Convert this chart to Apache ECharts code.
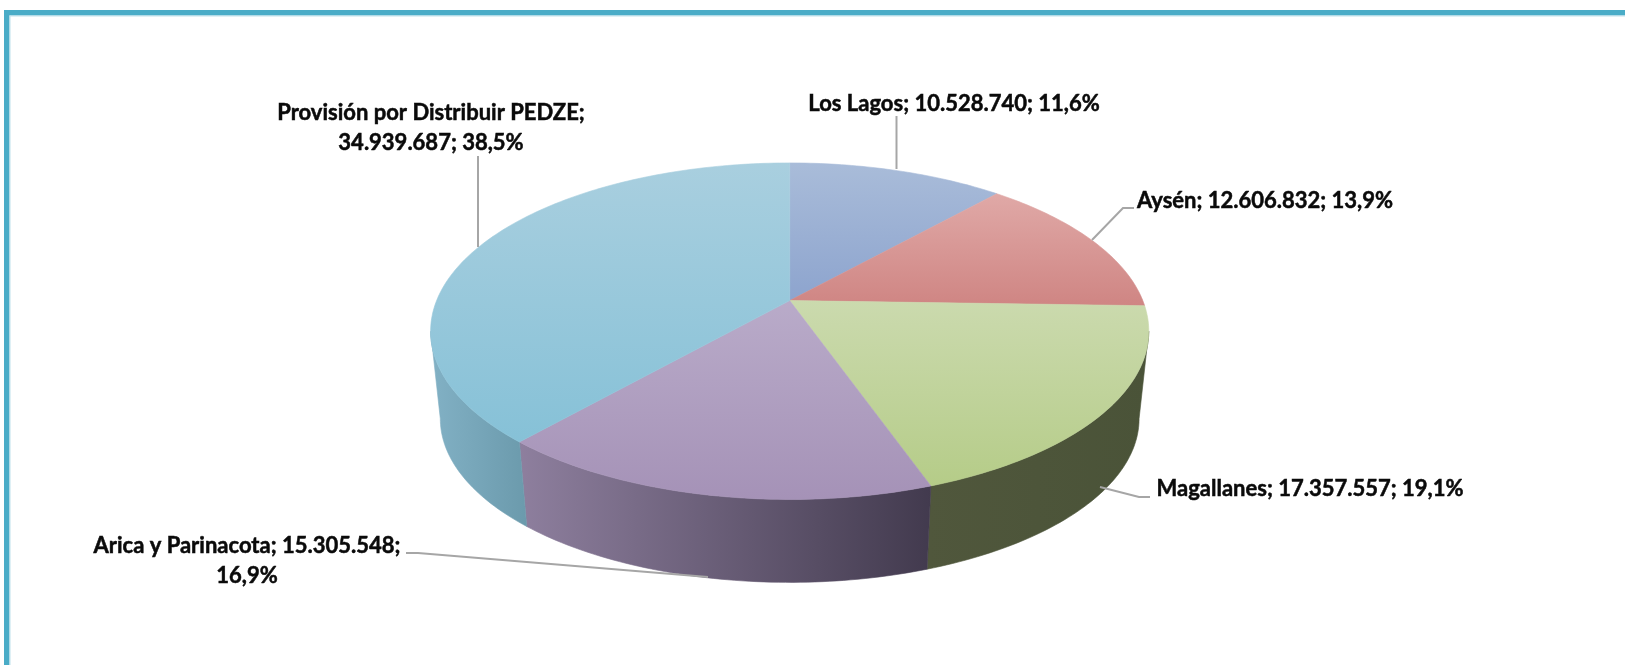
<!DOCTYPE html>
<html>
<head>
<meta charset="utf-8">
<style>
    html, body { margin: 0; padding: 0; background: #fff; }
    #chart { width: 1625px; height: 665px; }
</style>
</head>
<body>
<div id="chart"></div>
<script src="https://cdn.jsdelivr.net/npm/echarts@6/dist/echarts.min.js"></script>
<script>
// data, clockwise from 12 o'clock
const names = ['Los Lagos', 'Aysén', 'Magallanes', 'Arica y Parinacota', 'Provisión por Distribuir PEDZE']
const values = [10528740, 12606832, 17357557, 15305548, 34939687]
const percents = ['11,6%', '13,9%', '19,1%', '16,9%', '38,5%']
const valueLabels = ['10.528.740', '12.606.832', '17.357.557', '15.305.548', '34.939.687']

// colours
const topColors = [
    ['#a9bcd9', '#8da4ce'],
    ['#e0a9a7', '#cf8583'],
    ['#cbdaae', '#b5cc88'],
    ['#b9abc9', '#a592b7'],
    ['#a9cfdf', '#86c1d7'],
]
const wallColors = [
    ['#7f93b5', '#7f93b5'],
    ['#a56a68', '#a56a68'],
    ['#50573c', '#4a5338'],
    ['#8e7f9e', '#423a4e'],
    ['#82b1c5', '#6b9aac'],
]

// perspective of the disc
const CX = 789.7, CY = 300.6, RX = 353.1, RY = 162.7, PERSP = 0.1818
const WALL_DY = 88.3, WALL_SCALE = 0.973

// label and leader line layout
const labelPos = [[954, 104], [1265, 200.5], [1310, 489], [247, 560.5], [431, 128]]
const labelSep = [
    ['; ', '; '],
    ['; ', '; '],
    ['; ', '; '],
    ['; ', ';\n'],
    [';\n', '; '],
]
const leaders = [
    [[896.5, 116], [896.5, 169]],
    [[1092, 240], [1123, 208], [1134, 208]],
    [[1100, 487], [1139, 497], [1150, 497]],
    [[406, 553], [418, 553], [708, 577]],
    [[478, 156], [478, 247]],
]

const total = values.reduce((a, b) => a + b, 0)
const starts = []
values.reduce((acc, v, i) => { starts[i] = acc; return acc + v }, 0)
const toAngle = v => v / total * Math.PI * 2

// point on the disc rim (r=1) or center (r=0), angle clockwise from the top
const project = (angle, r = 1) => {
    const u = r * Math.sin(angle)
    const v = -r * Math.cos(angle)
    const d = 1 - PERSP * v
    return [CX + RX * u / d, CY + RY * v / d]
}
const lower = p => [CX + (p[0] - CX) * WALL_SCALE, CY + WALL_DY + (p[1] - CY) * WALL_SCALE]

const arc = (a0, a1) => {
    const pts = []
    const steps = Math.max(2, Math.ceil((a1 - a0) / (Math.PI / 180)))
    for (let i = 0; i <= steps; i++) pts.push(project(a0 + (a1 - a0) * i / steps))
    return pts
}

const gradient = (stops, horizontal) => ({
    type: 'linear', x: 0, y: 0, x2: horizontal ? 1 : 0, y2: horizontal ? 0 : 1,
    colorStops: [{ offset: 0, color: stops[0] }, { offset: 1, color: stops[1] }],
})

// only the front part of the rim shows a wall
const edge = Math.asin(PERSP)
const frontStart = Math.PI / 2 + edge
const frontEnd = Math.PI * 3 / 2 - edge

const renderWall = (params) => {
    const i = params.dataIndex
    const a0 = Math.max(toAngle(starts[i]), frontStart)
    const a1 = Math.min(toAngle(starts[i] + values[i]), frontEnd)
    if (a1 <= a0) return { type: 'group', children: [] }
    const rim = arc(a0, a1)
    const fill = gradient(wallColors[i], true)
    return {
        type: 'polygon',
        shape: { points: rim.concat(rim.map(lower).reverse()) },
        style: { fill, stroke: fill, lineWidth: 0.6 },
    }
}

const renderTop = (params) => {
    const i = params.dataIndex
    const a0 = toAngle(starts[i])
    const a1 = toAngle(starts[i] + values[i])
    const fill = gradient(topColors[i], false)
    return {
        type: 'polygon',
        shape: { points: [project(0, 0)].concat(arc(a0, a1)) },
        style: { fill, stroke: fill, lineWidth: 0.6 },
    }
}

const labelText = i => names[i] + labelSep[i][0] + valueLabels[i] + labelSep[i][1] + percents[i]

const renderLabel = (params) => {
    const i = params.dataIndex
    return {
        type: 'group',
        children: [
            {
                type: 'polyline',
                shape: { points: leaders[i] },
                style: { stroke: '#a6a6a6', lineWidth: 2, fill: null },
            },
            {
                type: 'text',
                style: {
                    text: labelText(i),
                    x: labelPos[i][0],
                    y: labelPos[i][1],
                    align: 'center',
                    verticalAlign: 'middle',
                    fontFamily: 'Lato',
                    fontWeight: 'bold',
                    fontSize: 22,
                    lineHeight: 30,
                    fill: '#0a0a0a',
                    stroke: '#0a0a0a',
                    lineWidth: 0.5,
                },
            },
        ],
    }
}

const data = names.map((name, i) => ({ name, value: values[i] }))

const chart = echarts.init(document.getElementById('chart'), null, { renderer: 'canvas' })
chart.setOption({
    animation: false,
    backgroundColor: '#ffffff',
    tooltip: { show: false },
    graphic: [
        { type: 'rect', shape: { x: 4, y: 10, width: 1621, height: 5.5 }, style: { fill: '#4aacc7' } },
        { type: 'rect', shape: { x: 4, y: 10, width: 5.5, height: 655 }, style: { fill: '#4aacc7' } },
        { type: 'rect', shape: { x: 9.5, y: 15.5, width: 1615.5, height: 1 }, style: { fill: '#bfe2ec' } },
        { type: 'rect', shape: { x: 9.5, y: 15.5, width: 1, height: 649.5 }, style: { fill: '#bfe2ec' } },
    ],
    series: [
        { type: 'custom', coordinateSystem: 'none', silent: true, data, renderItem: renderWall, z: 1 },
        { type: 'custom', coordinateSystem: 'none', silent: true, data, renderItem: renderTop, z: 2 },
        { type: 'custom', coordinateSystem: 'none', silent: true, data, renderItem: renderLabel, z: 3 },
    ],
})
</script>
</body>
</html>
